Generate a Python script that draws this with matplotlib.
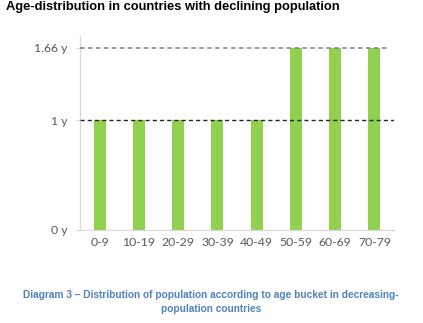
import matplotlib
matplotlib.use("Agg")
import matplotlib.pyplot as plt

categories = ["0-9", "10-19", "20-29", "30-39", "40-49", "50-59", "60-69", "70-79"]
values = [1, 1, 1, 1, 1, 1.66, 1.66, 1.66]
tick_values = [0, 1, 1.66]
tick_labels = ["0 y", "1 y", "1.66 y"]

fig = plt.figure(figsize=(4.23, 3.23), dpi=100)
W, H = 423, 323
ax = fig.add_axes([80 / W, 1 - 230 / H, (394 - 80) / W, (230 - 36) / H])

x = list(range(len(categories)))
ax.bar(x, values, width=0.31, color="#92d050", zorder=2)
ax.set_xlim(-0.5, len(categories) - 0.5)
ax.set_ylim(0, 1.765)

ax.axhline(1.66, xmin=0, xmax=0.985, color="#7f7f7f", linestyle=(0, (3, 2.2)), linewidth=1.1, zorder=3)
ax.axhline(1, color="#262626", linestyle=(0, (3, 2.2)), linewidth=1.0, zorder=3)

ax.set_xticks(x)
ax.set_xticklabels(categories, fontsize=8.8, color="#595959", family="Lato")
ax.set_yticks(tick_values)
ax.set_yticklabels(tick_labels, fontsize=8.8, color="#595959", family="Lato")
ax.tick_params(axis="x", length=0, pad=5)
ax.tick_params(axis="y", length=3, color="#d9d9d9", pad=6)

for s in ["top", "right"]:
    ax.spines[s].set_visible(False)
for s in ["left", "bottom"]:
    ax.spines[s].set_color("#d9d9d9")
    ax.spines[s].set_linewidth(0.9)

fig.text(6 / W, 1 - 1 / H, "Age-distribution in countries with declining population",
         fontsize=9.3, fontweight="bold", family="Liberation Sans", ha="left", va="top", color="black")
fig.text(211 / W, 1 - 301.5 / H,
         "Diagram 3 \u2013 Distribution of population according to age bucket in decreasing-\npopulation countries",
         fontsize=7.25, fontweight="bold", family="Liberation Sans", ha="center", va="center",
         color="#4f81bd", linespacing=1.5)

fig.savefig("out.png", dpi=100)
